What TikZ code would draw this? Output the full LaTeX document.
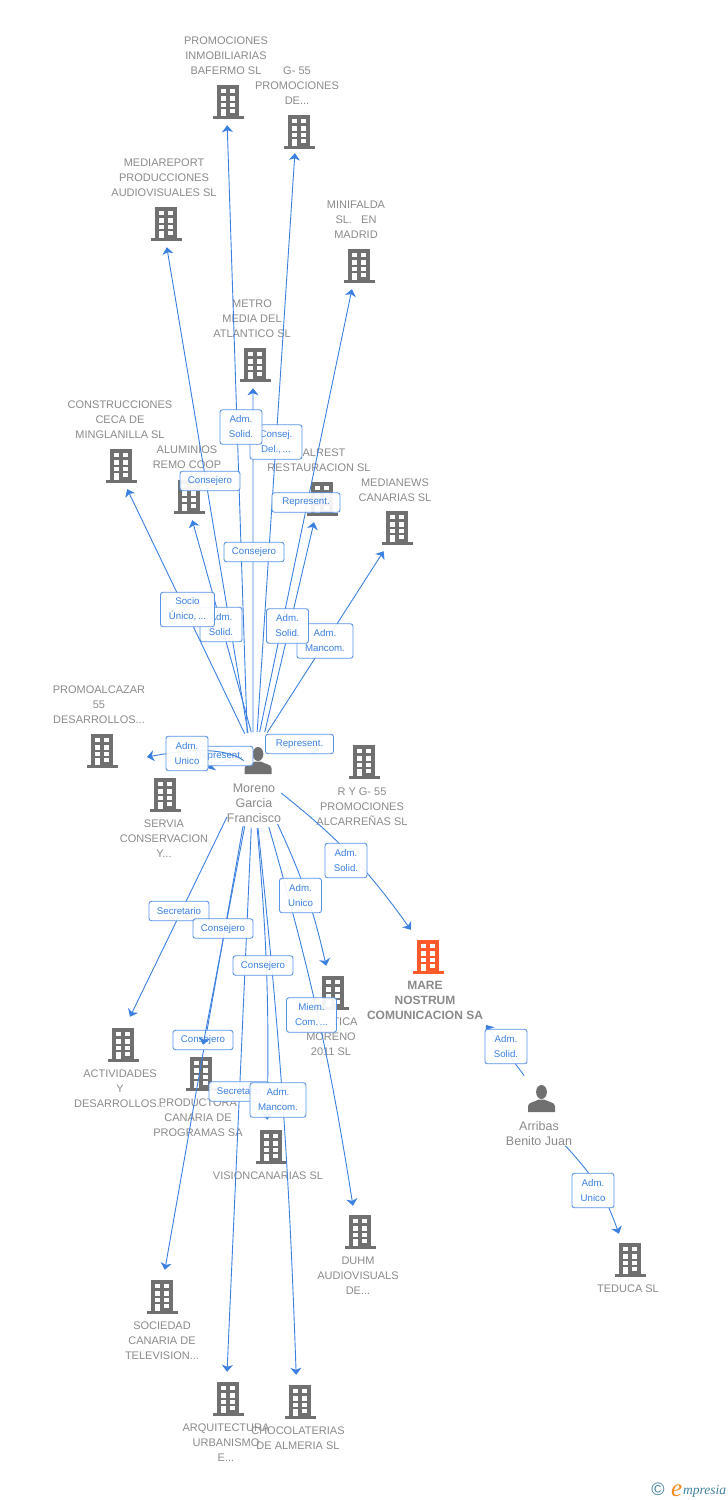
\documentclass[tikz,border=0pt]{standalone}
\usepackage{fontspec}
\setmainfont{Liberation Sans}
\newfontfamily\serifit{Liberation Serif}
\usetikzlibrary{arrows.meta}

\definecolor{bldgray}{HTML}{707070}
\definecolor{bldorange}{HTML}{FF5A2C}
\definecolor{txtgray}{HTML}{8A8A8A}
\definecolor{linkblue}{HTML}{3B80E0}
\definecolor{logoblue}{HTML}{3F7F9F}
\definecolor{logoorange}{HTML}{F28A1E}

\newcommand{\buildingicon}[1]{%
  \begin{scope}[shift={(path picture bounding box.center)},x=1pt,y=1pt]
    \fill[#1] (-11,-14.3) rectangle (11,16.7);
    \fill[#1] (-15.5,-16.7) rectangle (15.5,-14.3);
    \fill[white] (-7,9) rectangle (-2,13.3);
    \fill[white] (2.3,9) rectangle (7.3,13.3);
    \fill[white] (-7,1.3) rectangle (-2,5.7);
    \fill[white] (2.3,1.3) rectangle (7.3,5.7);
    \fill[white] (-7,-5.3) rectangle (-2,-1);
    \fill[white] (2.3,-5.3) rectangle (7.3,-1);
    \fill[white] (-7,-14.3) rectangle (-2,-6.7);
    \fill[white] (2.3,-11) rectangle (7.3,-6.7);
  \end{scope}}
\newcommand{\personicon}{%
  \begin{scope}[shift={(path picture bounding box.center)},x=1pt,y=1pt]
    \fill[bldgray] (0,6.5) ellipse (5.4 and 7);
    \fill[bldgray] (-13.5,-13.5) -- (-13.5,-7.5) .. controls (-13.5,-3.5) and (-6,-3.5) .. (-3,-1) -- (3,-1)
      .. controls (6,-3.5) and (13.5,-3.5) .. (13.5,-7.5) -- (13.5,-13.5) -- cycle;
  \end{scope}}

\tikzset{
  building/.style={rectangle,inner sep=0pt,minimum width=34pt,minimum height=46pt,
    path picture={\buildingicon{#1}}},
  building/.default=bldgray,
  lowbuilding/.style={building=#1,minimum height=54pt},
  lowbuilding/.default=bldgray,
  person/.style={rectangle,inner sep=0pt,minimum width=28pt,minimum height=28pt,
    path picture={\personicon}},
  hub/.style={circle,inner sep=0pt,minimum size=96pt},
  comptxt/.style={inner sep=0pt,align=center,text=txtgray,font=\fontsize{11}{15}\selectfont},
  maintxt/.style={inner sep=0pt,align=center,text=txtgray,font=\fontsize{12}{15}\selectfont\bfseries},
  persontxt/.style={inner sep=0pt,align=center,text=txtgray,font=\fontsize{12.5}{15}\selectfont},
  link/.style={draw=linkblue,line width=.9pt,-{Stealth[length=7pt,width=11pt,inset=2pt]}},
  role/.style={draw=linkblue!85!white,line width=.9pt,rounded corners=2.5pt,fill=white,fill opacity=.92,
    draw opacity=1,text opacity=1,text=linkblue,inner sep=0pt,align=center,
    minimum height=19.5pt,font=\fontsize{9.7}{15}\selectfont},
  tworole/.style={role,minimum height=34.5pt}
}

\begin{document}
\begin{tikzpicture}[x=1pt,y=-1pt]
\useasboundingbox (0,0) rectangle (728,1500);

% companies above
\node[building] (promociones) at (228,102) {};
\node[comptxt] (promocionestxt) at (226,56) {PROMOCIONES\\INMOBILIARIAS\\BAFERMO SL};
\node[building,minimum height=42pt] (gcincuenta) at (299,132) {};
\node[comptxt] (gcincuentatxt) at (297,86) {G- 55\\PROMOCIONES\\DE...};
\node[building] (mediareport) at (166,224) {};
\node[comptxt] (mediareporttxt) at (164,178) {MEDIAREPORT\\PRODUCCIONES\\AUDIOVISUALES SL};
\node[building] (minifalda) at (359,266) {};
\node[comptxt] (minifaldatxt) at (356,220) {MINIFALDA\\SL.\ \ \ EN\\MADRID};
\node[building] (metro) at (255,365) {};
\node[comptxt] (metrotxt) at (252,319) {METRO\\MEDIA DEL\\ATLANTICO SL};
\node[building] (construcciones) at (121,466) {};
\node[comptxt] (construccionestxt) at (120,420) {CONSTRUCCIONES\\CECA DE\\MINGLANILLA SL};
\node[building] (aluminios) at (189,497) {};
\node[comptxt] (aluminiostxt) at (187,457.5) {ALUMINIOS\\REMO COOP};
\node[building] (alrest) at (322,499) {};
\node[comptxt] (alresttxt) at (319,460.5) {\hspace{10pt}ALREST\\RESTAURACION SL};
\node[building] (medianews) at (397,528) {};
\node[comptxt] (medianewstxt) at (395,490.5) {MEDIANEWS\\CANARIAS SL};

% around the two persons
\node[building] (promoalcazar) at (102,751) {};
\node[comptxt] (promoalcazartxt) at (99,705) {PROMOALCAZAR\\55\\DESARROLLOS...};
\node[building] (servia) at (165,795) {};
\node[comptxt] (serviatxt) at (164,839) {SERVIA\\CONSERVACION\\Y...};
\node[building] (ryg) at (364,762) {};
\node[comptxt] (rygtxt) at (362,807) {R Y G- 55\\PROMOCIONES\\ALCARREÑAS SL};
\node[lowbuilding=bldorange] (mare) at (428,957) {};
\node[maintxt] (maretxt) at (425,1000) {MARE\\NOSTRUM\\COMUNICACION SA};
\node[person] (morenoicon) at (258,760.5) {};
\node[persontxt] (morenotxt) at (254,803) {Moreno\\Garcia\\Francisco};
\node[hub] (moreno) at (258,780) {};
\node[person] (arribasicon) at (541.5,1098.5) {};
\node[persontxt] (arribastxt) at (539,1133.5) {Arribas\\Benito Juan};

% companies below
\node[lowbuilding] (informatica) at (333,993) {};
\node[comptxt] (informaticatxt) at (331,1037) {\hspace{28pt}TICA\\MORENO\\2011 SL};
\node[lowbuilding,minimum height=56pt] (actividades) at (123,1045) {};
\node[comptxt] (actividadestxt) at (120,1089) {ACTIVIDADES\\Y\\DESARROLLOS...};
\node[lowbuilding,minimum height=58pt] (productora) at (201,1074) {};
\node[comptxt] (productoratxt) at (198,1118) {PRODUCTORA\\CANARIA DE\\PROGRAMAS SA};
\node[lowbuilding] (vision) at (271,1147) {};
\node[comptxt] (visiontxt) at (268,1176) {VISIONCANARIAS SL};
\node[lowbuilding,minimum height=52pt] (duhm) at (360,1232) {};
\node[comptxt] (duhmtxt) at (358,1276) {DUHM\\AUDIOVISUALS\\DE...};
\node[lowbuilding,minimum height=52pt] (teduca) at (630,1260) {};
\node[comptxt] (teducatxt) at (628,1289) {TEDUCA SL};
\node[lowbuilding] (sociedad) at (162,1297) {};
\node[comptxt] (sociedadtxt) at (162,1341) {SOCIEDAD\\CANARIA DE\\TELEVISION...};
\node[lowbuilding] (arquitectura) at (228,1399) {};
\node[comptxt] (arquitecturatxt) at (226,1443) {ARQUITECTURA\\URBANISMO\\E...};
\node[lowbuilding] (chocolaterias) at (300,1402) {};
\node[comptxt] (chocolateriastxt) at (298,1438.5) {CHOCOLATERIAS\\DE ALMERIA SL};

% free ends of the links that stop short of their building
\coordinate (promotip) at (147,757);
\coordinate (serviatip) at (207.5,768);
\coordinate (rygtip) at (319,751);
\coordinate (maretip) at (486,1025);

% links going up
\draw[link] (moreno.79) -- (medianews.-120);
\draw[link] (moreno.82) -- (alrest.-109);
\draw[link] (moreno.88) -- (minifalda.-107);
\draw[link] (moreno.96) -- (metro.-95);
\draw[link] (moreno.91) -- (gcincuenta.-101);
\draw[link] (moreno.103) -- (promociones.-92);
\draw[link] (moreno.102) -- (mediareport.-88);
\draw[link] (moreno.98) -- (aluminios.-82);
\draw[link] (moreno.106) -- (construcciones.-75);

% links to the sides
\draw[link] (morenoicon.west) .. controls (232,758) and (222,762) .. (serviatip);
\draw[link] (morenoicon.40) .. controls (285,745) and (305,745) .. (rygtip);
\draw[link] (morenotxt.20) to[bend left=8] (mare.north west);

% links going down
\draw[link] (moreno.-130) -- (actividades.76);
\draw[link] (moreno.-108) -- (sociedad.84);
\draw[link] (moreno.-91) to[bend left=3] (vision.98);
\draw[link] (moreno.-98) -- (arquitectura.92);
\draw[link] (moreno.-90) to[bend left=2] (chocolaterias.98);
\draw[link] (moreno.-66) to[bend left=6] (informatica.104);
\draw[link] (moreno.-77) to[bend left=3.5] (duhm.105);

% second person
\draw[link,shorten <=11pt] (arribasicon) -- (maretip);
\draw[link] (arribastxt.-25) to[bend left=12] (teduca.113);

% roles
\node[tworole,minimum width=56pt] (r1) at (325,641) {Adm.\\Mancom.};
\node[tworole,minimum width=42pt] (r2) at (287.5,626) {Adm.\\Solid.};
\node[role,minimum width=68pt] (r3) at (306,502.5) {Represent.};
\node[role,minimum width=60pt] (r4) at (254,552) {Consejero};
\node[tworole,minimum width=52pt] (r5) at (276,442) {Consej.\\Del.,\,...};
\node[tworole,minimum width=42pt] (r6) at (241,427) {Adm.\\Solid.};
\node[role,minimum width=60pt] (r7) at (210,481) {Consejero};
\node[tworole,minimum width=42pt] (r8) at (221,624.5) {Adm.\\Solid.};
\node[tworole,minimum width=54pt] (r9) at (187.5,609.5) {Socio\\Único,\,...};
\node[role,minimum width=68pt] (r10) at (219,756) {Represent.};
\draw[link] (morenoicon.west) .. controls (222,746) and (185,750) .. (promotip);
\node[tworole,minimum width=42pt] (r11) at (187,753.5) {Adm.\\Unico};
\node[role,minimum width=68pt] (r12) at (299.5,744) {Represent.};
\node[tworole,minimum width=42pt] (r13) at (346,860.5) {Adm.\\Solid.};
\node[role,minimum width=60pt] (r14) at (179,911) {Secretario};
\node[role,minimum width=60pt] (r15) at (203,1040) {Consejero};
\draw[link] (moreno.-106) -- (productora.86);
\node[role,minimum width=60pt] (r16) at (223,928.5) {Consejero};
\node[role,minimum width=60pt] (r17) at (263,965.5) {Consejero};
\node[role,minimum width=60pt] (r18) at (239,1091.5) {Secretario};
\node[tworole,minimum width=56pt] (r19) at (278,1100) {Adm.\\Mancom.};
\node[tworole,minimum width=42pt] (r20) at (300.5,895.5) {Adm.\\Unico};
\node[tworole,minimum width=50pt] (r21) at (311.5,1015) {Miem.\\Com.\,...};
\node[tworole,minimum width=42pt] (r22) at (506,1046.5) {Adm.\\Solid.};
\node[tworole,minimum width=42pt] (r23) at (593,1190.5) {Adm.\\Unico};

% logo
\node[inner sep=0pt,text=logoblue,font=\fontsize{18}{18}\selectfont] (logoc) at (658,1489) {©};
\node[inner sep=0pt,text=logoorange,font=\fontsize{25}{25}\serifit\itshape,anchor=base west] (logoe) at (671,1496) {e};
\node[inner sep=0pt,text=logoblue,font=\fontsize{13.5}{13.5}\serifit\itshape,anchor=base west] (logotxt) at (683,1494) {mpresia};
\end{tikzpicture}
\end{document}
